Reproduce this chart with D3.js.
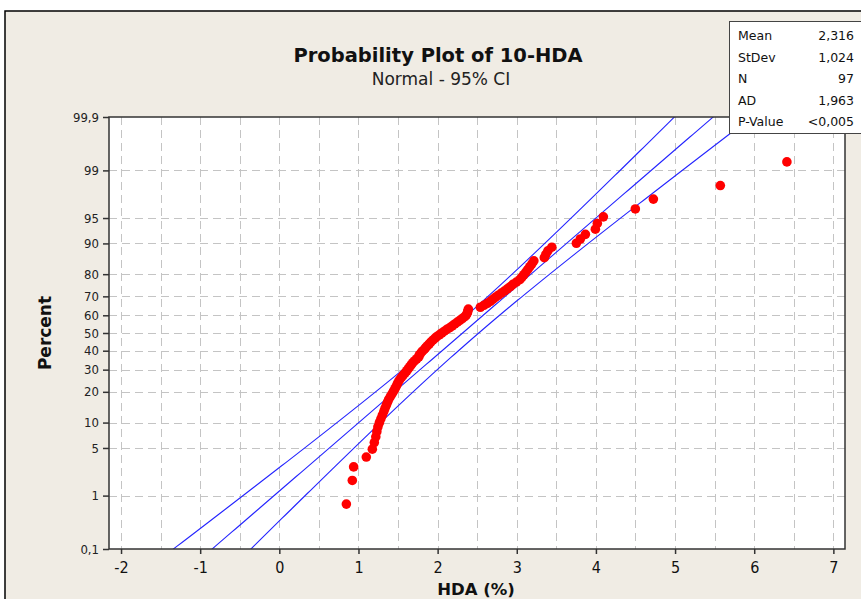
<!DOCTYPE html>
<html><head><meta charset="utf-8">
<script src="https://cdn.jsdelivr.net/npm/d3@7/dist/d3.min.js"></script>
<style>body{margin:0;background:#fff}svg{display:block}</style>
</head><body>
<svg id="chart" width="861" height="599"></svg>
<script>
// ---- data ----
const hdaValues = [
  0.847,0.922,0.939,1.099,1.175,1.200,1.219,1.232,1.245,1.264,1.283,1.302,
  1.320,1.335,1.352,1.367,1.382,1.403,1.424,1.443,1.461,1.477,1.491,1.506,
  1.523,1.545,1.567,1.590,1.611,1.630,1.649,1.668,1.687,1.712,1.737,1.763,
  1.769,1.788,1.807,1.832,1.851,1.873,1.895,1.914,1.940,1.965,1.990,2.022,
  2.053,2.085,2.117,2.155,2.186,2.218,2.249,2.281,2.312,2.344,2.363,2.376,2.382,2.388,
  2.540,2.584,2.628,2.666,2.698,2.729,2.767,2.805,2.843,2.881,2.919,
  2.951,2.995,3.039,3.064,3.089,3.115,3.140,3.165,3.191,3.216,3.348,3.367,3.393,3.443,
  3.753,3.803,3.867,3.993,4.018,4.094,4.498,4.726,5.572,6.413
];
const xTicks = [-2,-1,0,1,2,3,4,5,6,7];
const xGrid = [-2,-1.5,-1,-0.5,0,0.5,1,1.5,2,2.5,3,3.5,4,4.5,5,5.5,6,6.5,7];
const yTickPercents = [0.1,1,5,10,20,30,40,50,60,70,80,90,95,99,99.9];
const yTickLabels = ["0,1","1","5","10","20","30","40","50","60","70","80","90","95","99","99,9"];
const statLabels = ["Mean","StDev","N","AD","P-Value"];
const statValues = ["2,316","1,024","97","1,963","<0,005"];
const fitMean = 2.316, fitStDev = 1.024, fitN = 97;
const titleText = "Probability Plot of 10-HDA";
const subtitleText = "Normal - 95% CI";

// ---- helpers ----
function probit(p){ // Acklam inverse normal CDF
  const a=[-3.969683028665376e+01,2.209460984245205e+02,-2.759285104469687e+02,1.383577518672690e+02,-3.066479806614716e+01,2.506628277459239e+00];
  const b=[-5.447609879822406e+01,1.615858368580409e+02,-1.556989798598866e+02,6.680131188771972e+01,-1.328068155288572e+01];
  const c=[-7.784894002430293e-03,-3.223964580411365e-01,-2.400758277161838e+00,-2.549732539343734e+00,4.374664141464968e+00,2.938163982698783e+00];
  const d=[7.784695709041462e-03,3.224671290700398e-01,2.445134137142996e+00,3.754408661907416e+00];
  const pl=0.02425, ph=1-pl; let q,r;
  if(p<pl){q=Math.sqrt(-2*Math.log(p));return (((((c[0]*q+c[1])*q+c[2])*q+c[3])*q+c[4])*q+c[5])/((((d[0]*q+d[1])*q+d[2])*q+d[3])*q+1);}
  if(p<=ph){q=p-0.5;r=q*q;return (((((a[0]*r+a[1])*r+a[2])*r+a[3])*r+a[4])*r+a[5])*q/(((((b[0]*r+b[1])*r+b[2])*r+b[3])*r+b[4])*r+1);}
  q=Math.sqrt(-2*Math.log(1-p));return -(((((c[0]*q+c[1])*q+c[2])*q+c[3])*q+c[4])*q+c[5])/((((d[0]*q+d[1])*q+d[2])*q+d[3])*q+1);
}

const svg = d3.select("#chart");
const plotL=109, plotR=845, plotT=117, plotB=549;

// background frame
svg.append("rect").attr("x",5).attr("y",11).attr("width",900).attr("height",700)
  .attr("fill","#f0ece4").attr("stroke","#000").attr("stroke-width",1.5);

const x = d3.scaleLinear().domain([-2.152,7.147]).range([plotL,plotR]);
const zScale = d3.scaleLinear().domain([probit(0.001),probit(0.999)]).range([plotB,plotT]);
const yP = p => zScale(probit(p/100));

// plot area
svg.append("rect").attr("x",plotL).attr("y",plotT).attr("width",plotR-plotL).attr("height",plotB-plotT).attr("fill","#fff");

// grid
const grid = svg.append("g").attr("stroke","#c4c4c4").attr("stroke-width",1).attr("stroke-dasharray","8,5");
grid.selectAll("line.v").data(xGrid).join("line").attr("class","v")
  .attr("x1",d=>Math.round(x(d))+0.5).attr("x2",d=>Math.round(x(d))+0.5).attr("y1",plotT).attr("y2",plotB);
grid.selectAll("line.h").data(yTickPercents.slice(1,-1)).join("line").attr("class","h")
  .attr("x1",plotL).attr("x2",plotR).attr("y1",d=>Math.round(yP(d))+0.5).attr("y2",d=>Math.round(yP(d))+0.5);

// fit line and confidence bounds
svg.append("clipPath").attr("id","clip").append("rect").attr("x",plotL).attr("y",plotT).attr("width",plotR-plotL).attr("height",plotB-plotT);
const zs = d3.range(-3.3,3.31,0.05);
const zq = 1.959964;
const lineGen = d3.line().x(d=>x(d[0])).y(d=>zScale(d[1]));
const fits = [
  zs.map(z=>[fitMean+fitStDev*z - zq*fitStDev*Math.sqrt(1/fitN + z*z/(2*fitN)), z]),
  zs.map(z=>[fitMean+fitStDev*z, z]),
  zs.map(z=>[fitMean+fitStDev*z + zq*fitStDev*Math.sqrt(1/fitN + z*z/(2*fitN)), z])
];
svg.append("g").attr("clip-path","url(#clip)").selectAll("path").data(fits).join("path")
  .attr("d",lineGen).attr("fill","none").attr("stroke","#2424ff").attr("stroke-width",1.1);

// points
const sorted = hdaValues.slice().sort((a,b)=>a-b);
const n = sorted.length;
svg.append("g").selectAll("circle").data(sorted).join("circle")
  .attr("cx",d=>x(d)).attr("cy",(d,i)=>zScale(probit((i+1-0.3)/(n+0.4))))
  .attr("r",4.8).attr("fill","#ff0000");

// border
svg.append("rect").attr("x",plotL).attr("y",plotT).attr("width",plotR-plotL).attr("height",plotB-plotT)
  .attr("fill","none").attr("stroke","#333").attr("stroke-width",1.5);

// axes
const xAxis = d3.axisBottom(x).tickValues(xTicks).tickSize(5).tickPadding(8).tickFormat(d=>String(d));
const gx = svg.append("g").attr("transform",`translate(0,${plotB})`).call(xAxis);
gx.select(".domain").remove();
gx.selectAll("line").attr("stroke","#333").attr("stroke-width",1.5);
gx.selectAll("text").attr("font-family","DejaVu Sans Condensed, DejaVu Sans, sans-serif").attr("font-size",16).attr("fill","#111");

const yAxis = d3.axisLeft(zScale).tickValues(yTickPercents.map(p=>probit(p/100))).tickSize(6).tickPadding(4)
  .tickFormat((d,i)=>yTickLabels[i]);
const gy = svg.append("g").attr("transform",`translate(${plotL},0)`).call(yAxis);
gy.select(".domain").remove();
gy.selectAll("line").attr("stroke","#333").attr("stroke-width",1.5);
gy.selectAll("text").attr("font-family","DejaVu Sans Condensed, DejaVu Sans, sans-serif").attr("font-size",13).attr("fill","#222");

// titles
svg.append("text").attr("x",438).attr("y",62).attr("text-anchor","middle")
  .attr("font-family","DejaVu Sans, sans-serif").attr("font-weight","bold").attr("font-size",19.5).attr("fill","#111").text(titleText);
svg.append("text").attr("x",441).attr("y",85).attr("text-anchor","middle")
  .attr("font-family","DejaVu Sans, sans-serif").attr("font-size",17).attr("fill","#222").text(subtitleText);
svg.append("text").attr("transform","translate(51,333) rotate(-90)").attr("text-anchor","middle")
  .attr("font-family","DejaVu Sans, sans-serif").attr("font-weight","bold").attr("font-size",17).attr("fill","#111").text("Percent");
svg.append("text").attr("x",476).attr("y",595).attr("text-anchor","middle")
  .attr("font-family","DejaVu Sans, sans-serif").attr("font-weight","bold").attr("font-size",16.5).attr("fill","#111").text("HDA (%)");

// stats box
const box = svg.append("g");
box.append("rect").attr("x",729.5).attr("y",21.5).attr("width",140).attr("height",112)
  .attr("fill","#fff").attr("stroke","#444").attr("stroke-width",1);
box.selectAll("text.l").data(statLabels).join("text").attr("class","l")
  .attr("x",738).attr("y",(d,i)=>40+i*21.6).attr("font-family","DejaVu Sans, sans-serif").attr("font-size",12.5).attr("fill","#111").text(d=>d);
box.selectAll("text.v").data(statValues).join("text").attr("class","v")
  .attr("x",854).attr("y",(d,i)=>40+i*21.6).attr("text-anchor","end").attr("font-family","DejaVu Sans, sans-serif").attr("font-size",12.5).attr("fill","#111").text(d=>d);
</script>
</body></html>
